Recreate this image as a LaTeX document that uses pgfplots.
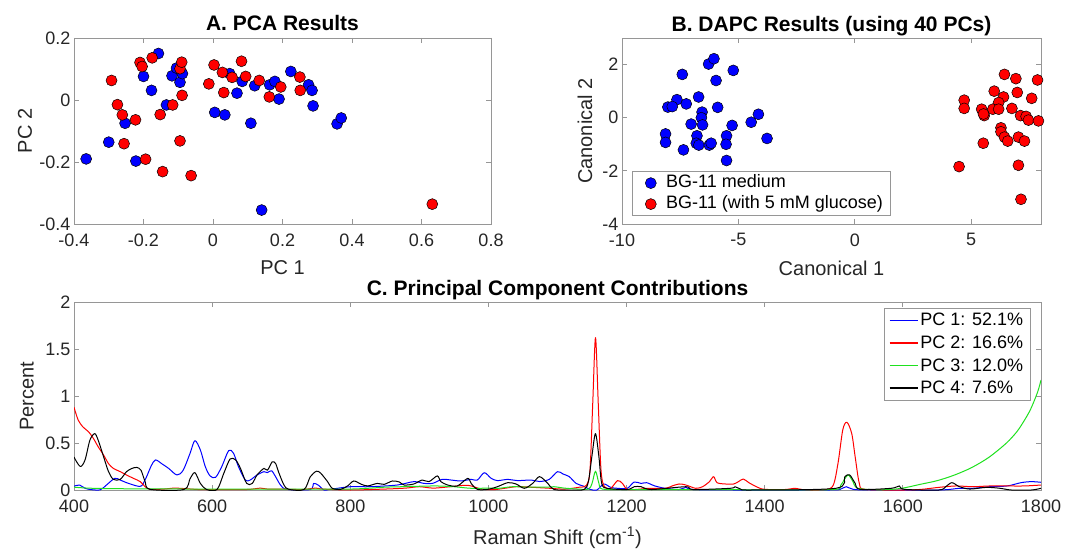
\documentclass[border=0pt]{standalone}
\usepackage{fontspec}
\setmainfont{Liberation Sans}
\usepackage{pgfplots}
\pgfplotsset{compat=1.18}
\definecolor{mblue}{rgb}{0,0,1}
\definecolor{mred}{rgb}{1,0,0}
\definecolor{mgreen}{RGB}{30,225,30}
\definecolor{axgray}{RGB}{150,150,150}
\definecolor{txtgray}{RGB}{38,38,38}
\pgfplotsset{
  base/.style={
    scale only axis,
    axis line style={axgray, line width=0.8pt},
    major tick style={axgray, line width=0.8pt},
    major tick length=5pt,
    tick align=inside,
    /pgf/number format/assume math mode=true,
    /pgf/number format/1000 sep={},
    tick label style={font=\fontsize{18}{20}\selectfont, text=txtgray},
    xticklabel style={yshift=-6pt},
    label style={font=\fontsize{20}{22}\selectfont, text=txtgray},
    title style={font=\bfseries\fontsize{21}{24}\selectfont, text=black, at={(0.5,1)}, anchor=base, yshift=1pt},
  },
  bmark/.style={only marks, mark=*, mark size=5.5pt, mark options={fill=mblue, draw=black, line width=0.5pt}},
  rmark/.style={only marks, mark=*, mark size=5.5pt, mark options={fill=mred, draw=black, line width=0.5pt}},
}
\begin{document}
\begin{tikzpicture}
\path[use as bounding box] (0,0) rectangle (1065pt,552pt);
% ---------------- A ----------------
\begin{axis}[base, at={(74pt,328pt)}, anchor=south west, width=417pt, height=186pt,
  xmin=-0.4, xmax=0.8, ymin=-0.4, ymax=0.2,
  xtick={-0.4,-0.2,0,0.2,0.4,0.6,0.8}, ytick={-0.4,-0.2,0,0.2},
  title={A. PCA Results}, xlabel={PC 1}, ylabel={PC 2},
  xlabel style={at={(axis description cs:0.5,-0.2366)}, anchor=center},
  ylabel style={at={(axis description cs:-0.1175,0.5)}, anchor=center}]
\addplot[bmark] coordinates {(-0.365,-0.19)(-0.30,-0.136)(-0.222,-0.197)(-0.253,-0.075)(-0.20,0.076)(-0.177,0.031)(-0.157,0.15)(-0.134,-0.016)(-0.118,0.078)(-0.105,0.103)(-0.095,0.057)(-0.088,0.085)(0.005,-0.04)(0.034,-0.048)(0.048,0.085)(0.069,0.022)(0.084,0.06)(0.109,-0.075)(0.12,0.046)(0.163,0.049)(0.178,0.06)(0.19,0.003)(0.224,0.092)(0.275,0.049)(0.285,0.031)(0.288,-0.019)(0.357,-0.077)(0.369,-0.058)(0.14,-0.355)};
\addplot[rmark] coordinates {(-0.292,0.063)(-0.275,-0.015)(-0.261,-0.048)(-0.256,-0.141)(-0.223,-0.064)(-0.21,0.121)(-0.204,0.108)(-0.194,-0.191)(-0.175,0.136)(-0.152,-0.047)(-0.145,-0.231)(-0.116,-0.016)(-0.095,0.101)(-0.09,0.122)(-0.089,0.015)(-0.095,-0.132)(-0.063,-0.244)(-0.012,0.052)(0.003,0.113)(0.027,0.089)(0.031,0.024)(0.055,0.073)(0.082,0.125)(0.094,0.076)(0.133,0.063)(0.162,0.01)(0.195,0.042)(0.25,0.074)(0.251,0.031)(0.631,-0.336)};
\end{axis}
% ---------------- B ----------------
\begin{axis}[base, at={(622pt,328pt)}, anchor=south west, width=419pt, height=186pt,
  xmin=-10, xmax=8, ymin=-4, ymax=3,
  xtick={-10,-5,0,5}, ytick={-4,-2,0,2},
  title={B. DAPC Results (using 40 PCs)}, xlabel={Canonical 1}, ylabel={Canonical 2},
  xlabel style={at={(axis description cs:0.5,-0.2366)}, anchor=center},
  ylabel style={at={(axis description cs:-0.0885,0.5)}, anchor=center},
  legend style={at={(0,0)}, anchor=south west, xshift=10pt, yshift=8pt, draw=axgray, line width=0.8pt,
    font=\fontsize{18}{20}\selectfont, row sep=1pt, inner xsep=5pt, inner ysep=1.5pt,
    nodes={inner sep=2pt, text height=12.5pt, text depth=3.5pt}},
  legend cell align=left,
  legend image code/.code={\path (0pt,0pt) (26pt,0pt); \draw[#1] plot coordinates {(13pt,0pt)};}]
\addplot[bmark] coordinates {(-7.41,1.63)(-6.28,2.02)(-6.05,2.22)(-5.22,1.78)(-5.96,1.40)(-7.64,0.68)(-8.03,0.40)(-7.84,0.42)(-7.24,0.52)(-6.71,0.78)(-6.56,0.21)(-6.59,0.0)(-6.54,-0.27)(-7.03,-0.24)(-5.89,0.39)(-5.27,-0.29)(-4.45,-0.17)(-4.14,0.13)(-3.77,-0.78)(-8.13,-0.61)(-8.13,-0.93)(-7.36,-1.21)(-6.78,-0.68)(-6.81,-0.96)(-6.7,-1.03)(-6.25,-1.03)(-6.17,-0.96)(-5.51,-0.68)(-5.53,-1.0)(-5.51,-1.61)};
\addlegendentry{BG-11 medium}
\addplot[rmark] coordinates {(6.43,1.63)(6.92,1.47)(7.85,1.42)(5.99,1.0)(6.39,0.78)(6.98,0.95)(7.60,0.73)(4.70,0.66)(4.70,0.35)(5.45,0.32)(6.18,0.57)(5.93,0.32)(6.18,0.32)(6.75,0.35)(5.56,0.08)(5.53,0.14)(7.12,0.08)(7.36,0.05)(7.46,-0.09)(7.89,-0.12)(6.28,-0.38)(6.28,-0.53)(6.43,-0.73)(6.57,-0.88)(7.03,-0.73)(7.29,-0.88)(5.52,-0.96)(4.48,-1.84)(7.03,-1.79)(7.14,-3.07)};
\addlegendentry{BG-11 (with 5 mM glucose)}
\end{axis}
% ---------------- C ----------------
\begin{axis}[base, at={(74pt,62pt)}, anchor=south west, width=967pt, height=188pt,
  xmin=400, xmax=1800, ymin=0, ymax=2,
  xtick={400,600,...,1800}, ytick={0,0.5,1,1.5,2},
  title={C. Principal Component Contributions}, xlabel={Raman Shift (cm\textsuperscript{-1})}, ylabel={Percent},
  xlabel style={at={(axis description cs:0.5,-0.255)}, anchor=center},
  ylabel style={at={(axis description cs:-0.0487,0.5)}, anchor=center},
  legend style={at={(1,1)}, anchor=north east, xshift=-10.5pt, yshift=-6pt, draw=axgray, line width=0.8pt,
    font=\fontsize{18}{20}\selectfont, row sep=4.5pt, inner xsep=5pt, inner ysep=3pt},
  legend cell align=left,
  legend image code/.code={\draw[#1, line width=1.4pt] (0pt,0pt) -- (28pt,0pt);},
  every axis plot/.append style={line width=1pt, line join=round, smooth, tension=0.5}]
\addplot[mblue] coordinates {(400,0.04)(408,0.053)(416,0.018)(425,0.004)(438,0.002)(447,0.053)(459,0.124)(467,0.106)(476,0.078)(491,0.043)(498,0.045)(505,0.14)(512,0.26)(518,0.32)(527,0.28)(537,0.23)(549,0.16)(558,0.21)(568,0.39)(575,0.525)(583,0.425)(590,0.25)(597,0.15)(605,0.135)(614,0.25)(624,0.42)(631,0.39)(638,0.25)(648,0.106)(655,0.106)(665,0.16)(675,0.195)(680,0.185)(686,0.205)(692,0.14)(699,0.053)(708,0.007)(742,0.005)(747,0.07)(754,0.05)(762,0.0)(771,0.007)(800,0.035)(829,0.035)(868,0.053)(892,0.089)(907,0.07)(919,0.07)(933,0.113)(946,0.106)(960,0.096)(975,0.113)(984,0.106)(994,0.184)(1004,0.124)(1013,0.1)(1028,0.113)(1042,0.1)(1062,0.106)(1074,0.09)(1088,0.113)(1100,0.195)(1108,0.17)(1117,0.142)(1127,0.07)(1137,0.043)(1147,0.007)(1157,0)(1167,0.064)(1177,0.028)(1187,0.018)(1201,0.018)(1211,0.085)(1221,0.07)(1229,0.078)(1241,0.043)(1256,0.018)(1276,0.005)(1286,0.028)(1296,0.005)(1355,0.0)(1494,0.0)(1510,0.01)(1518,0.035)(1528,0.007)(1553,0)(1652,0)(1682,0.018)(1701,0.018)(1726,0.035)(1751,0.043)(1771,0.078)(1786,0.089)(1800,0.082)};
\addlegendentry{PC 1: 52.1\%}
\addplot[mred] coordinates {(400,0.88)(406,0.745)(413,0.67)(421,0.62)(428,0.55)(435,0.46)(443,0.37)(450,0.28)(457,0.23)(467,0.195)(476,0.16)(486,0.124)(496,0.089)(503,0.035)(510,0.007)(530,0.01)(545,0.02)(560,0.015)(580,0.005)(600,0.005)(650,0.005)(670,0.02)(680,0.01)(700,0.01)(730,0.005)(750,0.02)(760,0.01)(800,0.0)(850,0.01)(880,0.02)(900,0.035)(920,0.02)(945,0.035)(970,0.05)(990,0.01)(1010,0.005)(1040,0.035)(1060,0.03)(1085,0.02)(1110,0.01)(1132,0.03)(1142,0.05)(1147,0.21)(1151,0.92)(1155,1.62)(1159,0.92)(1163,0.21)(1168,0.035)(1177,0.018)(1187,0.1)(1194,0.07)(1201,0.007)(1216,0.007)(1231,0.018)(1256,0.018)(1266,0.043)(1276,0.064)(1286,0.053)(1300,0.018)(1310,0.035)(1320,0.089)(1326,0.142)(1331,0.078)(1343,0.064)(1355,0.064)(1362,0.089)(1369,0.117)(1377,0.078)(1390,0.028)(1400,0.007)(1429,0.005)(1444,0.018)(1454,0.005)(1479,0)(1498,0.035)(1506,0.28)(1513,0.64)(1519,0.72)(1526,0.6)(1531,0.35)(1537,0.07)(1545,0.007)(1602,0)(1627,0.007)(1652,0.028)(1677,0.043)(1701,0.035)(1726,0.043)(1751,0.043)(1776,0.043)(1800,0.053)};
\addlegendentry{PC 2: 16.6\%}
\addplot[mgreen] coordinates {(400,0.03)(420,0.02)(450,0.015)(500,0.012)(600,0.01)(700,0.01)(800,0.01)(850,0.03)(875,0.035)(900,0.04)(925,0.043)(950,0.035)(975,0.018)(1000,0.02)(1015,0.018)(1035,0.035)(1060,0.03)(1085,0.03)(1095,0.035)(1110,0.02)(1130,0.01)(1145,0.01)(1150,0.07)(1155,0.2)(1160,0.07)(1165,0.01)(1200,0.005)(1300,0.005)(1400,0.002)(1500,0.005)(1510,0.05)(1516,0.12)(1521,0.16)(1527,0.1)(1534,0.02)(1560,0.003)(1580,0.005)(1600,0.02)(1625,0.06)(1650,0.1)(1675,0.16)(1700,0.24)(1725,0.35)(1750,0.5)(1765,0.62)(1775,0.73)(1785,0.86)(1795,1.04)(1800,1.17)};
\addlegendentry{PC 3: 12.0\%}
\addplot[black] coordinates {(400,0.35)(409,0.25)(416,0.32)(423,0.53)(430,0.60)(435,0.53)(443,0.35)(450,0.195)(457,0.113)(467,0.113)(476,0.195)(484,0.23)(491,0.24)(497,0.21)(503,0.089)(510,0.007)(559,0.005)(568,0.12)(575,0.185)(583,0.07)(592,0.005)(607,0.005)(617,0.18)(626,0.33)(634,0.32)(641,0.23)(650,0.07)(658,0.07)(665,0.16)(675,0.23)(680,0.21)(687,0.30)(692,0.28)(696,0.195)(704,0.053)(711,0.007)(733,0.005)(742,0.14)(751,0.2)(757,0.18)(767,0.09)(774,0.018)(786,0.007)(796,0.043)(805,0.096)(815,0.064)(825,0.043)(839,0.07)(849,0.06)(861,0.096)(871,0.085)(878,0.053)(892,0.064)(904,0.106)(914,0.089)(926,0.15)(931,0.09)(941,0.053)(955,0.043)(970,0.124)(975,0.07)(984,0.007)(999,0.007)(1013,0.035)(1028,0.078)(1040,0.064)(1052,0.018)(1064,0.07)(1074,0.142)(1086,0.07)(1095,0.005)(1120,0)(1139,0.007)(1145,0.1)(1150,0.37)(1155,0.60)(1160,0.35)(1164,0.07)(1172,0.018)(1201,0.005)(1211,0.035)(1221,0.035)(1236,0.005)(1286,0.035)(1296,0.005)(1350,0.018)(1357,0.035)(1365,0.01)(1380,0)(1503,0.018)(1516,0.142)(1523,0.16)(1531,0.07)(1538,0.007)(1583,0.018)(1595,0.043)(1602,0.007)(1652,0)(1662,0.035)(1671,0.078)(1682,0.035)(1697,0.01)(1721,0.028)(1741,0.018)(1757,0)(1786,0)(1800,0.018)};
\addlegendentry{PC 4: 7.6\%}
\end{axis}
\end{tikzpicture}
\end{document}
